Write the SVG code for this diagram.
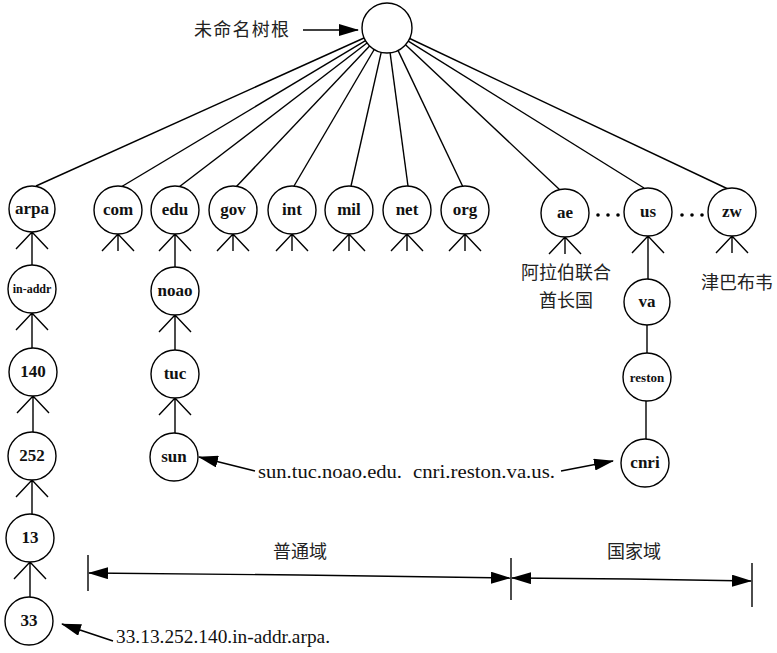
<svg xmlns="http://www.w3.org/2000/svg" width="777" height="653" viewBox="0 0 777 653">
<defs>
<marker id="ah" markerUnits="userSpaceOnUse" markerWidth="20" markerHeight="12" refX="19" refY="6" orient="auto">
<path d="M0,0 L20,6 L0,12 Z" fill="#000"/>
</marker>
<style>
.n{fill:#fff;stroke:#000;stroke-width:1.4}
.e{stroke:#000;stroke-width:1.4;fill:none}
.t{font-family:"Liberation Serif",serif;font-size:17px;font-weight:bold;text-anchor:middle;dominant-baseline:central;fill:#111}
.s{font-family:"Liberation Serif",serif;font-size:19px;fill:#111}
.c{font-family:"Noto Sans CJK SC","Liberation Sans",sans-serif;font-size:18px;fill:#222}
.a{stroke:#000;stroke-width:1.4;fill:none;marker-end:url(#ah)}
</style>
</defs>
<rect width="777" height="653" fill="#fff"/>
<g id="connectors">
<line class="e" x1="364" y1="38" x2="36" y2="186"/>
<line class="e" x1="365.5" y1="40.7" x2="121" y2="187"/>
<line class="e" x1="367" y1="43" x2="179" y2="187"/>
<line class="e" x1="369.6" y1="46" x2="236" y2="187"/>
<line class="e" x1="374.2" y1="49.5" x2="294" y2="186"/>
<line class="e" x1="381.2" y1="52.3" x2="351" y2="186"/>
<line class="e" x1="390.1" y1="52.8" x2="408" y2="186"/>
<line class="e" x1="398" y1="50.4" x2="463" y2="187"/>
<line class="e" x1="405.5" y1="44.8" x2="560" y2="190"/>
<line class="e" x1="408.3" y1="41.1" x2="644" y2="188"/>
<line class="e" x1="409.7" y1="38.5" x2="728" y2="189"/>
<path class="e" d="M16,249 L32,232 L48,249 M32,232 V265"/>
<path class="e" d="M102,251 L118,234 L134,251 M118,234 V251"/>
<path class="e" d="M159,251 L175,234 L191,251 M175,234 V267"/>
<path class="e" d="M217,251 L233,234 L249,251 M233,234 V251"/>
<path class="e" d="M276,251 L292,234 L308,251 M292,234 V251"/>
<path class="e" d="M333,251 L349,234 L365,251 M349,234 V251"/>
<path class="e" d="M391,251 L407,234 L423,251 M407,234 V251"/>
<path class="e" d="M449,251 L465,234 L481,251 M465,234 V251"/>
<path class="e" d="M549,254 L565,237 L581,254 M565,237 V254"/>
<path class="e" d="M632,253 L648,236 L664,253 M648,236 V279"/>
<path class="e" d="M716,253 L732,236 L748,253 M732,236 V253"/>
<path class="e" d="M16,330 L32,313 L48,330 M32,313 V348"/>
<path class="e" d="M17,413 L33,396 L49,413 M33,396 V432"/>
<path class="e" d="M16,497 L32,480 L48,497 M32,480 V514"/>
<path class="e" d="M14,579 L30,562 L46,579 M30,562 V597"/>
<path class="e" d="M159,332 L175,315 L191,332 M175,315 V350"/>
<path class="e" d="M159,415 L175,398 L191,415 M175,398 V433"/>
<line class="e" x1="647" y1="325" x2="647" y2="353"/>
<line class="e" x1="646" y1="401" x2="646" y2="439"/>
<line class="a" x1="303" y1="30" x2="358" y2="30"/>
<line class="a" x1="255" y1="471" x2="199" y2="457"/>
<line class="a" x1="561" y1="471" x2="613" y2="461"/>
<line class="a" x1="113" y1="641" x2="62" y2="624"/>
<line class="e" x1="88" y1="555" x2="88" y2="591"/>
<line class="e" x1="511" y1="558" x2="511" y2="600"/>
<line class="e" x1="752" y1="563" x2="752" y2="607"/>
<line class="a" x1="300" y1="575" x2="89" y2="573"/>
<line class="a" x1="300" y1="575" x2="510" y2="578"/>
<line class="a" x1="630" y1="579" x2="512" y2="578"/>
<line class="a" x1="630" y1="579" x2="751" y2="581"/>
</g>
<g id="root"><circle class="n" cx="387" cy="28" r="25"/></g>
<text class="c" x="194" y="36" textLength="95">未命名树根</text>
<g id="arpa"><circle class="n" cx="32" cy="209" r="23"/><text class="t" x="32" y="208">arpa</text></g>
<g id="com"><circle class="n" cx="118" cy="210" r="24"/><text class="t" x="118" y="209">com</text></g>
<g id="edu"><circle class="n" cx="175" cy="210" r="24"/><text class="t" x="175" y="209">edu</text></g>
<g id="gov"><circle class="n" cx="233" cy="210" r="24"/><text class="t" x="233" y="209">gov</text></g>
<g id="int"><circle class="n" cx="292" cy="210" r="24"/><text class="t" x="292" y="209">int</text></g>
<g id="mil"><circle class="n" cx="349" cy="210" r="24"/><text class="t" x="349" y="209">mil</text></g>
<g id="net"><circle class="n" cx="407" cy="210" r="24"/><text class="t" x="407" y="209">net</text></g>
<g id="org"><circle class="n" cx="465" cy="210" r="24"/><text class="t" x="465" y="209">org</text></g>
<g id="ae"><circle class="n" cx="565" cy="213" r="24"/><text class="t" x="565" y="212">ae</text></g>
<g id="us"><circle class="n" cx="648" cy="212" r="24"/><text class="t" x="648" y="211">us</text></g>
<g id="zw"><circle class="n" cx="732" cy="212" r="24"/><text class="t" x="732" y="211">zw</text></g>
<g id="dots" fill="#000">
<circle cx="598" cy="215" r="1.8"/><circle cx="608" cy="215" r="1.8"/><circle cx="618" cy="215" r="1.8"/>
<circle cx="682" cy="215" r="1.8"/><circle cx="692" cy="215" r="1.8"/><circle cx="702" cy="215" r="1.8"/>
</g>
<text class="c" x="566" y="279" text-anchor="middle">阿拉伯联合</text>
<text class="c" x="566" y="307" text-anchor="middle">酋长国</text>
<text class="c" x="737" y="289" text-anchor="middle">津巴布韦</text>
<g id="in-addr"><circle class="n" cx="32" cy="289" r="24"/><text class="t" x="32" y="289" style="font-size:12px">in-addr</text></g>
<g id="n140"><circle class="n" cx="33" cy="372" r="24"/><text class="t" x="33" y="371">140</text></g>
<g id="n252"><circle class="n" cx="32" cy="456" r="24"/><text class="t" x="32" y="455">252</text></g>
<g id="n13"><circle class="n" cx="30" cy="538" r="24"/><text class="t" x="30" y="537">13</text></g>
<g id="n33"><circle class="n" cx="29" cy="621" r="24"/><text class="t" x="29" y="620">33</text></g>
<g id="noao"><circle class="n" cx="175" cy="291" r="24"/><text class="t" x="175" y="290">noao</text></g>
<g id="tuc"><circle class="n" cx="175" cy="374" r="24"/><text class="t" x="175" y="373">tuc</text></g>
<g id="sun"><circle class="n" cx="174" cy="457" r="24"/><text class="t" x="174" y="456">sun</text></g>
<g id="va"><circle class="n" cx="647" cy="302" r="23"/><text class="t" x="647" y="301">va</text></g>
<g id="reston"><circle class="n" cx="647" cy="377" r="24"/><text class="t" x="647" y="377" style="font-size:13px">reston</text></g>
<g id="cnri"><circle class="n" cx="645" cy="463" r="24"/><text class="t" x="645" y="462">cnri</text></g>
<text class="s" x="258" y="478" textLength="144" lengthAdjust="spacingAndGlyphs">sun.tuc.noao.edu.</text>
<text class="s" x="413" y="478" textLength="142" lengthAdjust="spacingAndGlyphs">cnri.reston.va.us.</text>
<text class="s" x="116" y="643" textLength="214" lengthAdjust="spacingAndGlyphs">33.13.252.140.in-addr.arpa.</text>
<text class="c" x="300" y="558" text-anchor="middle">普通域</text>
<text class="c" x="634" y="558" text-anchor="middle">国家域</text>
</svg>
